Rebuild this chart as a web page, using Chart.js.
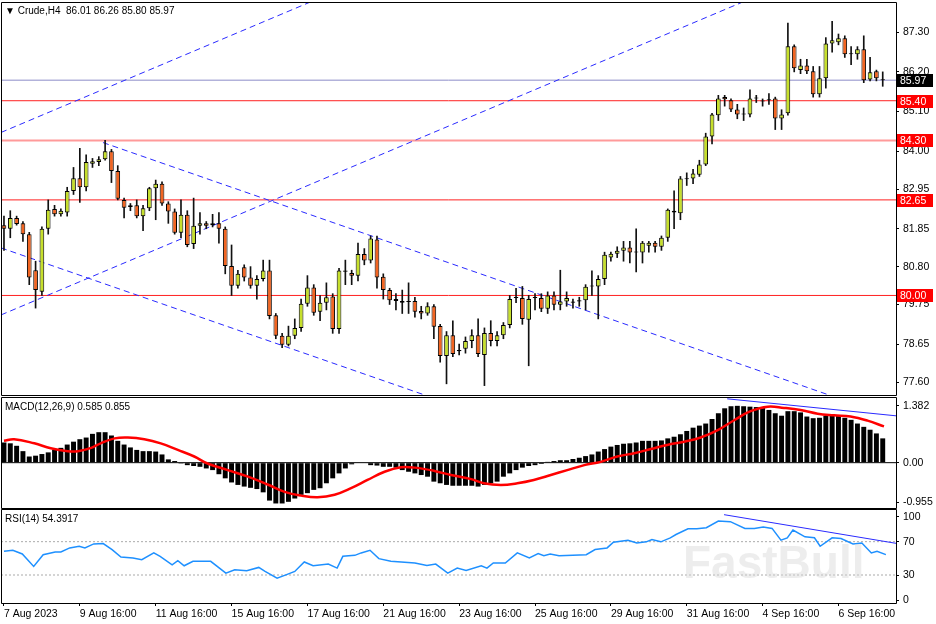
<!DOCTYPE html>
<html><head><meta charset="utf-8">
<script src="https://cdn.jsdelivr.net/npm/chart.js@4.4.0/dist/chart.umd.min.js"></script>
<style>
html,body{margin:0;padding:0;background:#fff;width:936px;height:624px;overflow:hidden}
.p{position:absolute;left:0;width:936px}
</style></head><body>
<div class="p" style="top:0;height:396px"><canvas id="c1"></canvas></div>
<div class="p" style="top:396px;height:113px"><canvas id="c2"></canvas></div>
<div class="p" style="top:509px;height:115px"><canvas id="c3"></canvas></div>
<script>
// ---------- DATA ----------
const opens=[81.95,81.85,82.15,82.0,81.7,80.7,80.1,81.85,82.4,82.25,82.3,82.9,83.25,83.0,83.65,83.7,83.78,84.0,83.45,82.65,82.45,82.5,82.2,82.42,82.97,83.1,82.55,82.33,81.74,82.24,81.43,81.93,82.0,81.95,82.0,81.85,80.82,80.27,80.78,80.5,80.27,80.46,80.69,79.45,78.88,78.63,78.88,79.1,79.77,80.22,79.55,79.8,79.97,79.07,80.69,80.62,80.55,81.15,80.97,81.55,80.52,80.15,79.9,79.85,79.82,79.85,79.57,79.5,79.7,79.15,78.32,78.9,78.45,78.52,78.74,78.9,78.35,78.96,78.74,78.9,79.18,79.93,79.93,79.33,79.93,79.93,79.63,80.0,79.74,79.83,79.8,79.83,79.87,80.25,80.25,80.46,81.05,81.16,81.24,81.33,81.19,81.19,81.38,81.46,81.35,81.6,82.35,82.28,83.22,83.24,83.35,83.63,84.41,85.0,85.5,85.41,85.16,85.02,85.02,85.46,85.38,85.41,85.46,84.91,85.05,86.91,86.25,86.38,86.22,85.58,86.02,86.99,87.02,87.13,86.69,86.69,86.83,85.99,86.22,85.97];
const highs=[82.2,82.35,82.2,82.05,81.75,80.95,81.9,82.65,82.5,82.4,83.0,83.55,84.08,83.9,83.8,83.85,84.3,84.05,83.6,82.7,82.55,82.65,82.5,83.0,83.2,83.15,82.6,82.4,82.65,82.35,82.7,82.3,82.05,82.25,82.3,81.9,81.4,80.7,80.85,80.8,80.55,80.98,80.98,79.5,78.95,79.15,79.35,79.9,80.55,80.3,80.0,80.35,80.05,80.75,80.98,80.7,81.45,81.3,81.65,81.65,80.6,80.2,80.05,80.15,80.35,79.95,79.7,79.8,79.75,79.2,79.0,79.3,78.65,78.85,79.05,79.35,79.1,79.3,79.0,79.25,80.0,80.2,80.25,80.0,80.05,80.05,80.1,80.1,80.7,80.1,79.9,79.95,80.3,80.68,80.55,81.2,81.2,81.35,81.5,81.5,81.85,81.5,81.5,81.5,81.65,82.4,82.9,83.3,83.4,83.5,83.75,84.5,85.05,85.55,85.55,85.45,85.3,85.2,85.7,85.55,85.45,85.6,85.5,85.15,87.55,86.95,86.55,86.55,86.35,86.35,87.15,87.6,87.25,87.2,86.9,86.9,87.2,86.6,86.25,86.2];
const lows=[81.25,81.6,81.95,81.5,80.3,79.65,80.0,81.7,82.2,82.2,82.2,82.8,82.58,82.9,83.55,83.6,83.75,83.13,82.65,82.15,82.35,82.15,81.8,82.35,82.1,82.5,82.0,81.7,81.6,81.35,81.3,81.7,81.85,81.9,81.45,80.6,80.0,80.2,80.4,80.2,79.9,80.4,79.35,78.8,78.55,78.6,78.8,79.0,79.7,79.45,79.3,79.6,78.95,78.95,80.3,80.3,80.4,80.85,80.9,80.2,79.9,79.75,79.6,79.5,79.5,79.4,79.35,79.45,78.8,78.15,77.55,78.3,78.35,78.4,78.55,78.3,77.5,78.6,78.6,78.8,79.1,79.8,79.2,78.05,79.6,79.55,79.5,79.6,79.6,79.7,79.65,79.7,79.6,80.0,79.35,80.3,80.95,81.05,80.95,80.9,80.65,80.9,81.2,81.2,81.25,81.5,81.85,82.1,83.05,83.1,83.3,83.6,84.2,84.85,85.25,85.1,84.9,84.85,84.95,85.35,85.25,85.3,84.6,84.6,85.0,86.2,86.15,86.15,85.5,85.5,85.75,86.75,86.95,86.6,86.4,86.55,85.9,85.95,85.95,85.8];
const closes=[81.85,82.15,81.98,81.7,80.5,80.15,81.85,82.38,82.25,82.35,82.9,83.25,83.0,83.7,83.72,83.78,84.0,83.45,82.68,82.43,82.5,82.2,82.42,82.97,83.1,82.55,82.33,81.74,82.24,81.4,81.93,82.0,81.93,82.0,81.85,80.82,80.27,80.6,80.5,80.27,80.46,80.69,79.43,78.88,78.63,78.88,79.1,79.77,80.22,79.52,79.8,79.95,79.07,80.69,80.66,80.55,81.15,80.97,81.58,80.5,80.15,79.87,79.85,79.8,79.82,79.55,79.5,79.7,79.13,78.32,78.9,78.38,78.49,78.74,78.9,78.38,78.96,78.74,78.9,79.18,79.9,79.93,79.35,79.9,79.93,79.63,80.0,79.74,79.83,79.93,79.83,79.87,80.24,80.25,80.46,81.13,81.16,81.24,81.33,81.19,81.19,81.46,81.46,81.35,81.6,82.38,82.3,83.24,83.22,83.38,83.63,84.41,85.02,85.46,85.44,85.16,85.02,85.02,85.46,85.46,85.38,85.41,84.91,85.02,86.91,86.3,86.38,86.22,85.58,86.02,86.99,87.08,87.13,86.69,86.69,86.83,85.97,86.19,86.02,85.97];
const priceTicks=[87.30,86.20,85.10,84.00,82.95,81.85,80.80,79.75,78.65,77.60];
const levels=[85.40,84.30,82.65,80.00];
const lastPrice=85.97;
// trend lines: [startIdx,startPrice,endIdx,endPrice]
const trendA=[-0.47,84.52,60,88.99];
const trendB=[-0.47,79.46,120,88.37];
const trendC=[15.66,84.24,130.5,77.24];
const trendD=[-0.47,81.32,70,77.03];
const macdHist=[0.49,0.47,0.41,0.28,0.15,0.17,0.21,0.25,0.31,0.36,0.44,0.51,0.57,0.61,0.70,0.74,0.74,0.66,0.53,0.44,0.37,0.31,0.28,0.28,0.27,0.20,0.08,0.04,-0.02,-0.06,-0.08,-0.10,-0.14,-0.18,-0.28,-0.38,-0.48,-0.54,-0.58,-0.61,-0.64,-0.72,-0.92,-0.99,-0.99,-0.95,-0.87,-0.78,-0.74,-0.66,-0.62,-0.50,-0.38,-0.26,-0.14,-0.04,0.00,0.00,-0.06,-0.07,-0.10,-0.10,-0.12,-0.18,-0.22,-0.26,-0.30,-0.34,-0.46,-0.50,-0.54,-0.56,-0.56,-0.56,
-0.56,-0.58,-0.54,-0.50,-0.46,-0.34,-0.26,-0.18,-0.12,-0.08,-0.06,-0.03,0.02,0.04,0.06,0.06,0.09,0.12,0.16,0.20,0.27,0.33,0.39,0.43,0.46,0.47,0.49,0.53,0.53,0.53,0.54,0.59,0.63,0.69,0.77,0.85,0.90,0.95,1.06,1.20,1.32,1.37,1.38,1.37,1.36,1.35,1.33,1.28,1.20,1.14,1.25,1.25,1.22,1.12,1.08,1.09,1.14,1.14,1.14,1.09,1.04,0.95,0.87,0.80,0.71,0.59];
const sigIdx=[0,1.6,4.8,7.4,10.1,11.7,13.8,15.3,17.5,19.6,22.2,24.8,27.5,30.1,32.2,35.4,38.6,41.7,44.4,47,49.6,52.3,54.9,57.5,60.2,62.8,65,68.1,70.7,73.9,75.9,78.6,81.2,83.8,86.5,89.1,91.8,94.4,97,99.7,102.3,104.9,107.6,110.2,112.9,115.5,118.1,120.8,123.4,126,128.7,131.3,133.9,136.6,139.2];
const sigVal=[0.53,0.57,0.47,0.35,0.28,0.28,0.36,0.47,0.59,0.61,0.57,0.47,0.31,0.15,-0.02,-0.18,-0.34,-0.53,-0.71,-0.80,-0.84,-0.78,-0.62,-0.42,-0.22,-0.11,-0.12,-0.20,-0.30,-0.40,-0.50,-0.54,-0.50,-0.42,-0.30,-0.18,-0.06,0.02,0.15,0.23,0.33,0.43,0.51,0.61,0.79,1.03,1.25,1.36,1.33,1.28,1.19,1.15,1.12,1.02,0.88];
const macdTicks=[1.382,0,-0.955];
const macdTickLabels=['1.382','0.00','-0.955'];
const macdTrend=[114.4,1.55,141.6,1.13];
const rsiIdx=[0,1.4,2.9,4.7,6.2,8.1,9.0,10.4,11.9,12.8,14.2,15.7,17.1,18.5,20.4,21.8,23.7,24.7,26.6,27.5,28.5,29.9,32.7,35.1,36.5,38.4,40.3,41.3,43.2,44.6,46.0,47.5,48.9,51.3,52.7,53.6,55.5,56.5,57.9,59.3,61.2,65.0,66.9,68.3,70.2,71.7,73.1,75.5,76.4,77.4,79.3,81.2,83.1,84.5,85.4,86.4,87.8,92.1,93.5,95.4,96.4,98.7,100.1,101.6,102.5,103.9,105.4,106.3,108.2,109.6,111.1,113.0,114.9,117.2,118.7,120.1,121.5,122.9,123.9,124.8,126.7,128.2,129.1,131.0,132.4,134.3,135.7,137.2,138.1,139.5];
const rsiVal=[58.5,59.7,55.2,40.3,54.4,57.7,57.7,62.5,64.5,62.5,67.3,67.7,60.5,51.6,50.4,48.4,56.5,52.4,42.3,47.2,41.1,46.4,46.4,32.3,36.3,35.1,39.1,34.3,26.2,30.2,34.3,45.6,41.1,43.1,38.3,52.4,53.6,56.5,59.7,49.6,46.4,44.4,41.5,43.1,32.3,38.3,35.5,41.1,38.3,44.4,44.4,56.5,50.4,55.6,53.2,55.2,53.2,54.4,60.5,62.5,69.4,71.8,68.5,69.8,72.6,69.8,74.6,78.6,85.5,85.5,86.7,94.8,94.0,85.9,85.9,87.5,85.9,71.8,74.6,83.9,75.8,74.6,64.5,74.6,73.8,67.3,68.5,56.5,58.5,54.4];
const rsiTicks=[100,70,30,0];
const rsiLevels=[70,30];
const rsiTrend=[113.9,102.4,141.9,67];
const xTickIdx=[0,12,24,36,48,60,72,84,96,108,120,132];
const xTickLabels=['7 Aug 2023','9 Aug 16:00','11 Aug 16:00','15 Aug 16:00','17 Aug 16:00','21 Aug 16:00','23 Aug 16:00','25 Aug 16:00','29 Aug 16:00','31 Aug 16:00','4 Sep 16:00','6 Sep 16:00'];
// ---------- STYLE ----------
const XMIN=-0.47, XMAX=141.1;
const FONT='"Liberation Sans", Arial, sans-serif';
Chart.defaults.font.family=FONT; Chart.defaults.font.size=10; Chart.defaults.color='#000';
Chart.defaults.animation=false;
const BULL='#c6df2c', BEAR='#f26522', TL='#2a2aff';
function seg(a){return [{x:a[0],y:a[1]},{x:a[2],y:a[3]}];}
function hline(v,c,w){return {type:'line',data:[{x:XMIN,y:v},{x:XMAX,y:v}],borderColor:c,borderWidth:w,pointRadius:0};}
const frame={id:'frame',afterDraw(ch){const a=ch.chartArea,c=ch.ctx;c.save();c.strokeStyle='#000';c.lineWidth=1;
 c.beginPath();c.moveTo(a.left+0.5,a.bottom+0.5);c.lineTo(a.left+0.5,a.top-0.5);c.lineTo(a.right+0.5,a.top-0.5);c.lineTo(a.right+0.5,a.bottom+0.5);c.lineTo(a.left+0.5,a.bottom+0.5);c.stroke();
 const o=ch.options.plugins.frame||{};
 if(o.title){c.font='10px '+FONT;c.fillStyle='#000';c.textBaseline='middle';c.fillText(o.title,o.tx||5,a.top+o.ty);}
 if(o.boxes){const y=ch.scales.y;o.boxes.forEach(b=>{const py=Math.round(y.getPixelForValue(b[0]));c.fillStyle=b[1];c.fillRect(a.right+1,py-6,36,13);c.fillStyle='#fff';c.font='10.5px '+FONT;c.textBaseline='middle';c.fillText(b[0].toFixed(2),a.right+4,py+1);});}
 if(o.wm){c.font='bold 46px '+FONT;c.fillStyle='rgba(215,215,215,0.45)';c.textBaseline='alphabetic';c.fillText('FastBull',683,a.top+68);}
 c.restore();}};
function yAxis(min,max,ticks,labels){return {type:'linear',position:'right',min,max,
 afterBuildTicks:s=>{s.ticks=ticks.map(v=>({value:v}));},afterFit:s=>{s.width=40;s.paddingTop=0;s.paddingBottom=0;},
 ticks:{padding:4,font:{size:10.5},callback:(v,i)=>labels?labels[i]:Number(v).toFixed(2)},
 grid:{drawOnChartArea:false,drawTicks:true,tickLength:3,color:'#000'},border:{display:false}};}
function xAxis(show){const ax={type:'linear',min:XMIN,max:XMAX,offset:false,display:show,
 afterBuildTicks:s=>{s.ticks=xTickIdx.map(v=>({value:v}));},
 ticks:{align:'start',padding:2,maxRotation:0,autoSkip:false,font:{size:10.5},callback:(v,i)=>xTickLabels[i]},
 grid:{drawOnChartArea:false,drawTicks:true,tickLength:3,color:'#000'},border:{display:false}};
 if(show) ax.afterFit=s=>{s.height=21;s.paddingLeft=0;s.paddingRight=0;};
 return ax;}
const base={responsive:false,maintainAspectRatio:false,events:[],plugins:{legend:{display:false},tooltip:{enabled:false}}};

// ---------- MAIN ----------
const n=closes.length;
const bodies=[],wicks=[],bcol=[];
for(let i=0;i<n;i++){bodies.push({x:i,y:[opens[i],closes[i]]});wicks.push({x:i,y:[lows[i],highs[i]]});bcol.push(closes[i]>=opens[i]?BULL:BEAR);}
const c1=document.getElementById('c1');c1.width=936;c1.height=396;
new Chart(c1,{type:'bar',data:{datasets:[
 {type:'bar',data:bodies,backgroundColor:bcol,borderColor:'#000',borderWidth:1,borderSkipped:false,barPercentage:0.74,categoryPercentage:1,grouped:false,minBarLength:1},
 {type:'bar',data:wicks,backgroundColor:'#111',borderWidth:0,barThickness:1,grouped:false},
 {type:'line',data:seg(trendA),borderColor:TL,borderWidth:1,borderDash:[6,4],pointRadius:0},
 {type:'line',data:seg(trendB),borderColor:TL,borderWidth:1,borderDash:[6,4],pointRadius:0},
 {type:'line',data:seg(trendC),borderColor:TL,borderWidth:1,borderDash:[6,4],pointRadius:0},
 {type:'line',data:seg(trendD),borderColor:TL,borderWidth:1,borderDash:[6,4],pointRadius:0},
 hline(lastPrice,'#8c8cc8',1),hline(levels[0],'#ff2020',1),hline(levels[1],'#ff9a9a',2),hline(levels[2],'#ff2020',1),hline(levels[3],'#ff2020',1)
]},options:{...base,layout:{padding:{top:3,bottom:1,left:1,right:0}},
 scales:{x:xAxis(false),y:yAxis(77.24,88.11,priceTicks)},
 plugins:{...base.plugins,frame:{title:'▼ Crude,H4  86.01 86.26 85.80 85.97',ty:8,boxes:[[lastPrice,'#000'],[levels[0],'#ff0000'],[levels[1],'#ff0000'],[levels[2],'#ff0000'],[levels[3],'#ff0000']]}}},plugins:[frame]});

// ---------- MACD ----------
const c2=document.getElementById('c2');c2.width=936;c2.height=113;
new Chart(c2,{type:'bar',data:{datasets:[
 {type:'line',data:sigIdx.map((x,i)=>({x,y:sigVal[i]})),borderColor:'#ff0000',borderWidth:2.5,pointRadius:0,tension:0.4},
 {type:'line',data:seg(macdTrend),borderColor:TL,borderWidth:1,pointRadius:0},
 {type:'bar',data:macdHist.map((v,i)=>({x:i,y:v})),backgroundColor:'#000',borderColor:'#777',borderWidth:0,barPercentage:0.78,categoryPercentage:1},
 hline(0,'#000',1)
]},options:{...base,layout:{padding:{top:2,bottom:1,left:1}},
 scales:{x:xAxis(false),y:yAxis(-1.10,1.57,macdTicks,macdTickLabels)},
 plugins:{...base.plugins,frame:{title:'MACD(12,26,9) 0.585 0.855',ty:9}}},plugins:[frame]});

// ---------- RSI ----------
const c3=document.getElementById('c3');c3.width=936;c3.height=115;
new Chart(c3,{type:'line',data:{datasets:[
 {data:rsiIdx.map((x,i)=>({x,y:rsiVal[i]})),borderColor:'#1e90ff',borderWidth:1.5,pointRadius:0},
 {data:seg(rsiTrend),borderColor:TL,borderWidth:1,pointRadius:0},
 {data:[{x:XMIN,y:rsiLevels[0]},{x:XMAX,y:rsiLevels[0]}],borderColor:'#aaa',borderWidth:1,borderDash:[2,2],pointRadius:0},
 {data:[{x:XMIN,y:rsiLevels[1]},{x:XMAX,y:rsiLevels[1]}],borderColor:'#aaa',borderWidth:1,borderDash:[2,2],pointRadius:0}
]},options:{...base,layout:{padding:{top:1,bottom:0,left:1}},
 scales:{x:xAxis(true),y:yAxis(-3.6,108,rsiTicks,['100','70','30','0'])},
 plugins:{...base.plugins,frame:{title:'RSI(14) 54.3917',ty:9,wm:true}}},plugins:[frame]});
</script></body></html>
